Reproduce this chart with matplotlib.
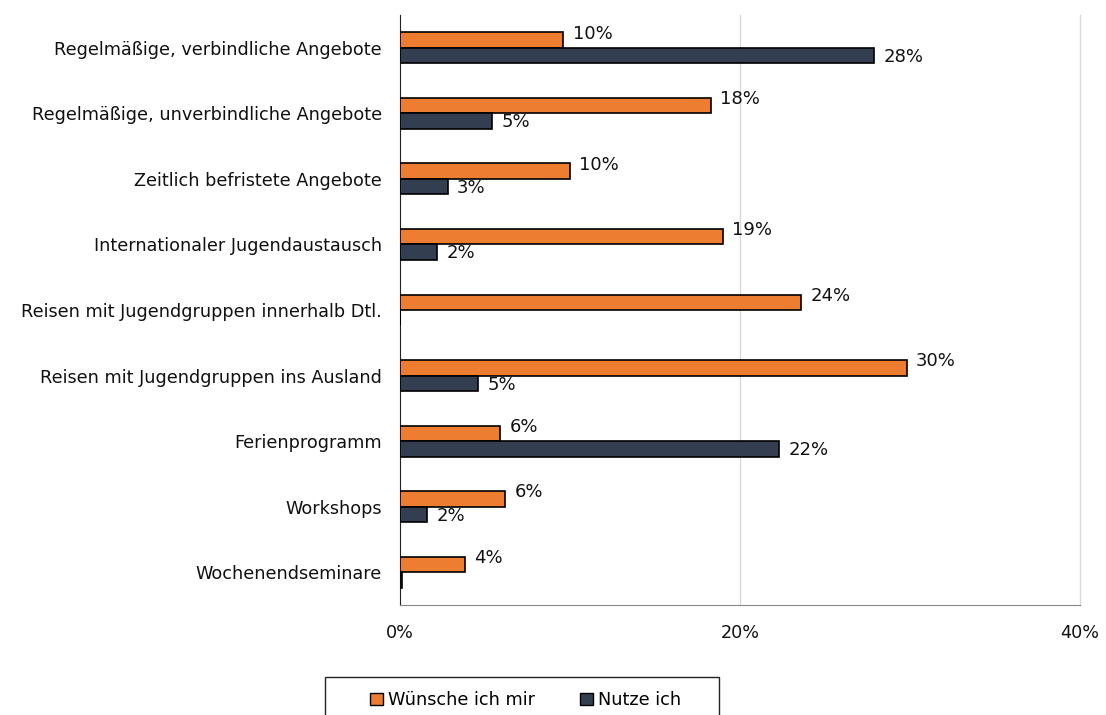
import matplotlib.pyplot as plt
from matplotlib.patches import Rectangle
import numpy as np

categories = [
    "Regelmäßige, verbindliche Angebote",
    "Regelmäßige, unverbindliche Angebote",
    "Zeitlich befristete Angebote",
    "Internationaler Jugendaustausch",
    "Reisen mit Jugendgruppen innerhalb Dtl.",
    "Reisen mit Jugendgruppen ins Ausland",
    "Ferienprogramm",
    "Workshops",
    "Wochenendseminare",
]
wuensche = [9.6, 18.3, 10.0, 19.0, 23.6, 29.8, 5.9, 6.2, 3.8]
nutze = [27.9, 5.4, 2.8, 2.2, 0.0, 4.6, 22.3, 1.6, 0.1]
x_ticks = [0, 20, 40]

orange = "#ED7D31"
navy = "#333F50"
fs = 12.7

plt.rcParams['font.family'] = ['DejaVu Sans']

W, H = 1106, 715
fig = plt.figure(figsize=(W / 100, H / 100), dpi=100)
ax = fig.add_axes([400 / W, 1 - 605 / H, 680 / W, 590 / H])

y = np.arange(len(categories))
h = 0.235
ax.barh(y - h / 2, wuensche, height=h, color=orange, edgecolor="black",
        linewidth=1.2, label="Wünsche ich mir", zorder=3)
ax.barh(y + h / 2, nutze, height=h, color=navy, edgecolor="black",
        linewidth=1.2, label="Nutze ich", zorder=3)

for yi, v in zip(y, wuensche):
    ax.text(v + 0.55, yi - h / 2 - 0.1, f"{round(v)}%", va="center",
            ha="left", fontsize=13, color="#111111")
for yi, v in zip(y, nutze):
    if v >= 0.5:
        ax.text(v + 0.55, yi + h / 2 + 0.02, f"{round(v)}%", va="center",
                ha="left", fontsize=13, color="#111111")

ax.set_xlim(0, 40)
ax.set_ylim(len(categories) - 0.5, -0.5)
ax.set_yticks(y)
ax.set_yticklabels(categories, fontsize=fs, color="#111111")
ax.set_xticks(x_ticks)
ax.set_xticklabels([f"{t}%" for t in x_ticks], fontsize=fs, color="#111111")
ax.tick_params(axis="both", length=0)
ax.tick_params(axis="x", pad=14)
ax.tick_params(axis="y", pad=13)

for t in x_ticks[1:]:
    ax.axvline(t, color="#D9D9D9", linewidth=1, zorder=0, clip_on=False)
for s in ["top", "right"]:
    ax.spines[s].set_visible(False)
ax.spines["left"].set_color("#222222")
ax.spines["bottom"].set_color("#888888")

# legend box, cut off by the bottom edge as in the original
fig.patches.append(Rectangle((325 / W, -0.02), (719 - 325) / W, 0.02 + 1 - 677 / H,
                             transform=fig.transFigure, fill=False,
                             edgecolor="#222222", linewidth=1.0))
leg = fig.legend(loc="center left", bbox_to_anchor=(370 / W, 1 - 700 / H),
                 ncol=2, frameon=False, fontsize=fs, handlelength=0.72,
                 handleheight=0.72, handletextpad=0.3, columnspacing=2.55,
                 borderpad=0, borderaxespad=0)
for p in leg.get_patches():
    p.set_linewidth(1.0)

fig.savefig("out.png", dpi=100)
